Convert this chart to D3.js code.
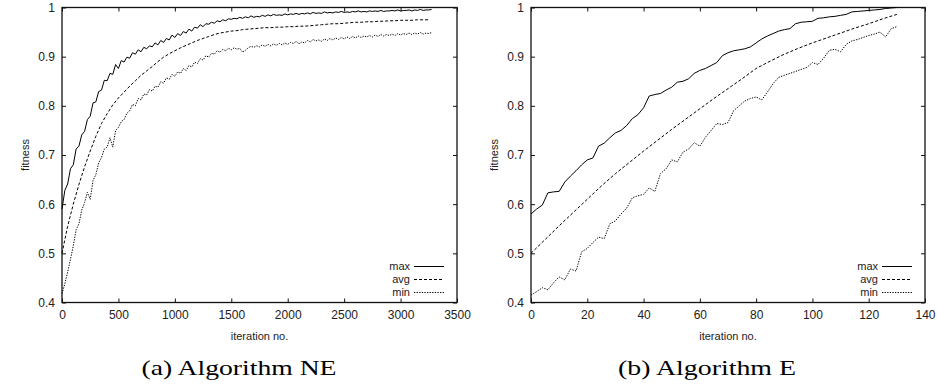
<!DOCTYPE html>
<html>
<head>
<meta charset="utf-8">
<script src="https://cdn.jsdelivr.net/npm/d3@7"></script>
<style>
  body { margin: 0; background: #fff; }
  text { font-family: "Liberation Sans", Arial, sans-serif; }
</style>
</head>
<body>
<svg id="chart" width="937" height="388"></svg>
<script>
// ---- data ----
// (a) Algorithm NE : max / min sampled every 25 iterations, avg every 50
const neStep = 25
const neMax = [
  0.590,0.628,0.641,0.672,0.680,0.712,0.718,0.741,0.748,0.772,
  0.779,0.806,0.808,0.829,0.832,0.852,0.851,0.866,0.864,0.884,
  0.876,0.892,0.889,0.899,0.897,0.908,0.905,0.914,0.910,0.919,
  0.916,0.922,0.920,0.928,0.924,0.933,0.929,0.937,0.934,0.944,
  0.939,0.947,0.943,0.951,0.948,0.956,0.952,0.960,0.958,0.965,
  0.961,0.967,0.966,0.970,0.968,0.973,0.971,0.975,0.973,0.977,
  0.976,0.978,0.977,0.980,0.978,0.981,0.979,0.983,0.980,0.982,
  0.981,0.984,0.982,0.985,0.983,0.986,0.984,0.985,0.984,0.987,
  0.985,0.987,0.986,0.988,0.986,0.988,0.987,0.989,0.987,0.990,
  0.988,0.989,0.988,0.991,0.989,0.990,0.989,0.991,0.990,0.992,
  0.990,0.991,0.990,0.992,0.991,0.993,0.991,0.992,0.991,0.993,
  0.992,0.993,0.992,0.994,0.992,0.993,0.993,0.994,0.993,0.995,
  0.993,0.994,0.994,0.995,0.993,0.995,0.994,0.996,0.994,0.995,
  0.995,0.996
]
const neMin = [
  0.418,0.438,0.462,0.488,0.515,0.548,0.560,0.588,0.603,0.624,
  0.610,0.648,0.660,0.684,0.695,0.712,0.716,0.735,0.716,0.750,
  0.756,0.768,0.772,0.785,0.790,0.803,0.800,0.815,0.812,0.824,
  0.822,0.833,0.830,0.840,0.838,0.849,0.846,0.857,0.854,0.864,
  0.860,0.869,0.866,0.876,0.872,0.882,0.879,0.889,0.886,0.896,
  0.893,0.902,0.899,0.907,0.905,0.912,0.909,0.915,0.912,0.917,
  0.914,0.918,0.915,0.917,0.909,0.913,0.918,0.921,0.919,0.922,
  0.920,0.924,0.921,0.925,0.922,0.926,0.923,0.927,0.924,0.928,
  0.925,0.929,0.927,0.931,0.926,0.930,0.928,0.933,0.930,0.935,
  0.932,0.934,0.931,0.936,0.933,0.937,0.934,0.938,0.935,0.939,
  0.936,0.940,0.937,0.941,0.938,0.942,0.939,0.942,0.940,0.943,
  0.940,0.944,0.941,0.945,0.942,0.945,0.943,0.946,0.943,0.947,
  0.944,0.947,0.945,0.948,0.945,0.948,0.946,0.949,0.946,0.948,
  0.947,0.949
]
const neAvgStep = 50
const neAvg = [
  0.500,0.555,0.600,0.640,0.676,0.708,0.738,0.764,0.784,0.802,
  0.816,0.828,0.840,0.851,0.862,0.871,0.880,0.890,0.899,0.906,
  0.912,0.918,0.923,0.928,0.933,0.937,0.941,0.945,0.948,0.950,
  0.952,0.953,0.955,0.956,0.957,0.958,0.959,0.959,0.960,0.960,
  0.961,0.961,0.962,0.962,0.963,0.964,0.965,0.966,0.967,0.967,
  0.968,0.969,0.970,0.970,0.971,0.971,0.972,0.972,0.973,0.973,
  0.974,0.974,0.974,0.975,0.975,0.975
]

// (b) Algorithm E : max / min every 2 iterations, avg every 5
const eStep = 2
const eMax = [
  0.580,0.590,0.598,0.623,0.625,0.626,0.645,0.657,0.668,0.680,
  0.690,0.694,0.718,0.724,0.735,0.745,0.750,0.760,0.774,0.782,
  0.796,0.820,0.823,0.825,0.832,0.838,0.848,0.850,0.855,0.866,
  0.872,0.876,0.882,0.888,0.902,0.908,0.912,0.914,0.916,0.920,
  0.928,0.936,0.942,0.947,0.952,0.955,0.957,0.967,0.970,0.971,
  0.972,0.978,0.979,0.981,0.982,0.984,0.986,0.991,0.992,0.993,
  0.994,0.995,0.996,0.998,0.999,1.000
]
const eMin = [
  0.415,0.422,0.430,0.426,0.440,0.452,0.446,0.468,0.464,0.503,
  0.510,0.522,0.533,0.530,0.560,0.566,0.580,0.592,0.613,0.617,
  0.620,0.633,0.626,0.662,0.672,0.690,0.686,0.706,0.712,0.725,
  0.718,0.736,0.750,0.764,0.762,0.766,0.790,0.800,0.810,0.815,
  0.818,0.812,0.828,0.845,0.858,0.862,0.866,0.870,0.874,0.878,
  0.888,0.884,0.897,0.913,0.915,0.910,0.925,0.932,0.935,0.939,
  0.943,0.946,0.950,0.940,0.957,0.961
]
const eAvgStep = 5
const eAvg = [
  0.500,0.528,0.556,0.583,0.610,0.637,0.662,0.685,0.708,0.730,
  0.752,0.773,0.794,0.815,0.835,0.855,0.876,0.891,0.905,0.917,
  0.928,0.938,0.948,0.958,0.967,0.977,0.986
]

const yTicks = [0.4, 0.5, 0.6, 0.7, 0.8, 0.9, 1]
const neXTicks = [0, 500, 1000, 1500, 2000, 2500, 3000, 3500]
const eXTicks = [0, 20, 40, 60, 80, 100, 120, 140]
const seriesNames = ['max', 'avg', 'min']

// ---- drawing ----
const svg = d3.select('#chart')
const plotTop = 7.5
const plotBottom = 302.5
const dashes = { max: null, avg: '3,2', min: '1.3,1.3' }

function drawPanel(p) {
  const x = d3.scaleLinear().domain(p.xDomain).range([p.left, p.right])
  const y = d3.scaleLinear().domain([0.4, 1]).range([plotBottom, plotTop])
  const g = svg.append('g')

  const styleAxis = sel => {
    sel.select('.domain').remove()
    sel.selectAll('line').attr('stroke', '#111')
    sel.selectAll('text')
      .attr('fill', '#222')
      .style('font-family', '"Liberation Sans", Arial, sans-serif')
      .style('font-size', '12px')
  }

  g.append('g').attr('transform', `translate(0,${plotBottom})`)
    .call(d3.axisBottom(x).tickValues(p.xTicks).tickFormat(d3.format('d')).tickSize(-4).tickPadding(8))
    .call(styleAxis)
  g.append('g').attr('transform', `translate(0,${plotTop})`)
    .call(d3.axisTop(x).tickValues(p.xTicks).tickFormat('').tickSize(-4))
    .call(styleAxis)
  g.append('g').attr('transform', `translate(${p.left},0)`)
    .call(d3.axisLeft(y).tickValues(yTicks).tickFormat(d => d === 1 ? '1' : d.toFixed(1)).tickSize(-4).tickPadding(7))
    .call(styleAxis)
  g.append('g').attr('transform', `translate(${p.right},0)`)
    .call(d3.axisRight(y).tickValues(yTicks).tickFormat('').tickSize(-4))
    .call(styleAxis)

  // frame
  g.append('rect')
    .attr('x', p.left).attr('y', plotTop)
    .attr('width', p.right - p.left).attr('height', plotBottom - plotTop)
    .attr('fill', 'none').attr('stroke', '#111').attr('stroke-width', 1.3)

  // series
  const series = [
    { name: 'max', values: p.max, step: p.step },
    { name: 'avg', values: p.avg, step: p.avgStep },
    { name: 'min', values: p.min, step: p.step }
  ]
  series.forEach(s => {
    const line = d3.line().x((d, i) => x(i * s.step)).y(d => y(d))
    g.append('path')
      .datum(s.values)
      .attr('d', line)
      .attr('fill', 'none')
      .attr('stroke', '#000')
      .attr('stroke-width', 1)
      .attr('stroke-dasharray', dashes[s.name])
  })

  // legend
  const leg = g.append('g')
  seriesNames.forEach((name, i) => {
    const ly = 266.5 + i * 13
    leg.append('text')
      .attr('x', p.legendX).attr('y', ly).attr('dy', '0.35em')
      .attr('text-anchor', 'end')
      .style('font-size', '11px').attr('fill', '#222')
      .text(name)
    leg.append('line')
      .attr('x1', p.legendX + 4).attr('x2', p.legendX + 34)
      .attr('y1', ly).attr('y2', ly)
      .attr('stroke', '#000').attr('stroke-width', 1)
      .attr('stroke-dasharray', dashes[name])
  })

  // axis titles
  g.append('text')
    .attr('transform', `translate(${p.left - 37},${(plotTop + plotBottom) / 2}) rotate(-90)`)
    .attr('text-anchor', 'middle').attr('dy', '0.35em')
    .style('font-size', '11px').attr('fill', '#222')
    .text('fitness')
  g.append('text')
    .attr('x', (p.left + p.right) / 2).attr('y', 340)
    .attr('text-anchor', 'middle')
    .style('font-size', '11px').attr('fill', '#222')
    .text('iteration no.')

  // caption
  g.append('text')
    .attr('x', p.captionX).attr('y', 375)
    .attr('text-anchor', 'middle')
    .style('font-family', '"Liberation Serif", "Times New Roman", serif')
    .style('font-size', '22px')
    .attr('textLength', p.captionWidth).attr('lengthAdjust', 'spacingAndGlyphs')
    .attr('fill', '#000')
    .text(p.caption)
}

drawPanel({
  xDomain: [0, 3500], xTicks: neXTicks, left: 62, right: 457,
  max: neMax, min: neMin, avg: neAvg, step: neStep, avgStep: neAvgStep,
  legendX: 410, caption: '(a) Algorithm NE', captionX: 239, captionWidth: 195
})
drawPanel({
  xDomain: [0, 140], xTicks: eXTicks, left: 531, right: 925,
  max: eMax, min: eMin, avg: eAvg, step: eStep, avgStep: eAvgStep,
  legendX: 878, caption: '(b) Algorithm E', captionX: 707, captionWidth: 178
})
</script>
</body>
</html>
